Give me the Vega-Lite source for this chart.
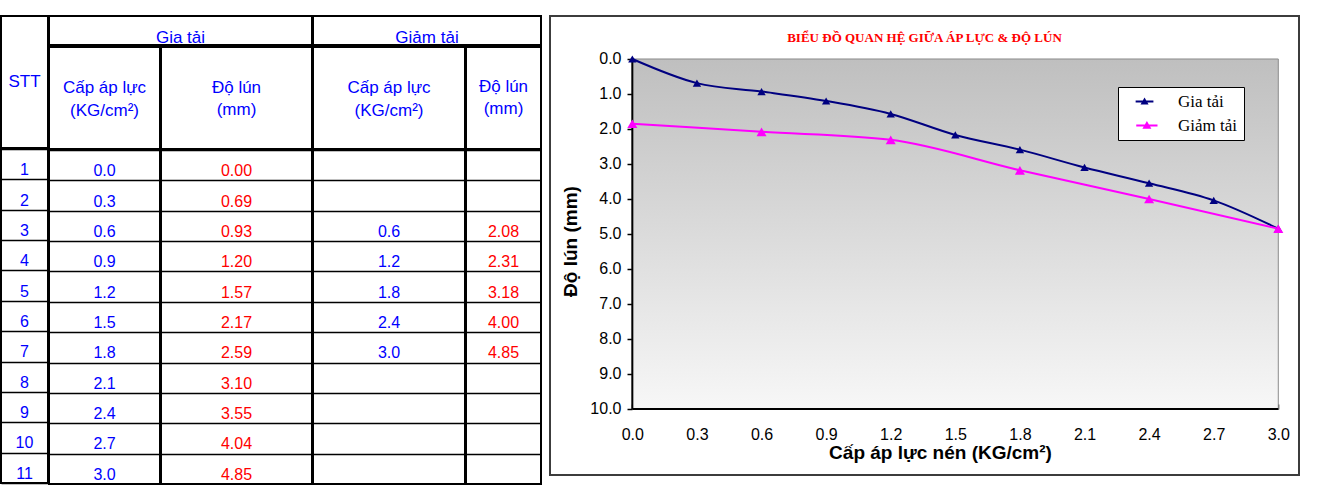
{
  "$schema": "https://vega.github.io/schema/vega-lite/v6.json",
  "background": "white",
  "padding": {"left": 0, "top": 15, "right": 0, "bottom": 0},
  "datasets": {
    "table": [
      {"stt": 1, "p1": 0.0, "s1": 0.00},
      {"stt": 2, "p1": 0.3, "s1": 0.69},
      {"stt": 3, "p1": 0.6, "s1": 0.93, "p2": 0.6, "s2": 2.08},
      {"stt": 4, "p1": 0.9, "s1": 1.20, "p2": 1.2, "s2": 2.31},
      {"stt": 5, "p1": 1.2, "s1": 1.57, "p2": 1.8, "s2": 3.18},
      {"stt": 6, "p1": 1.5, "s1": 2.17, "p2": 2.4, "s2": 4.00},
      {"stt": 7, "p1": 1.8, "s1": 2.59, "p2": 3.0, "s2": 4.85},
      {"stt": 8, "p1": 2.1, "s1": 3.10},
      {"stt": 9, "p1": 2.4, "s1": 3.55},
      {"stt": 10, "p1": 2.7, "s1": 4.04},
      {"stt": 11, "p1": 3.0, "s1": 4.85}
    ],
    "curve": [
      {"series": "Gia tải", "p": 0.0, "s": 0.00},
      {"series": "Gia tải", "p": 0.3, "s": 0.69},
      {"series": "Gia tải", "p": 0.6, "s": 0.93},
      {"series": "Gia tải", "p": 0.9, "s": 1.20},
      {"series": "Gia tải", "p": 1.2, "s": 1.57},
      {"series": "Gia tải", "p": 1.5, "s": 2.17},
      {"series": "Gia tải", "p": 1.8, "s": 2.59},
      {"series": "Gia tải", "p": 2.1, "s": 3.10},
      {"series": "Gia tải", "p": 2.4, "s": 3.55},
      {"series": "Gia tải", "p": 2.7, "s": 4.04},
      {"series": "Gia tải", "p": 3.0, "s": 4.85},
      {"series": "Giảm tải", "p": 0.0, "s": 1.85},
      {"series": "Giảm tải", "p": 0.6, "s": 2.08},
      {"series": "Giảm tải", "p": 1.2, "s": 2.31},
      {"series": "Giảm tải", "p": 1.8, "s": 3.18},
      {"series": "Giảm tải", "p": 2.4, "s": 4.00},
      {"series": "Giảm tải", "p": 3.0, "s": 4.85}
    ]
  },
  "spacing": 7,
  "hconcat": [
    {
      "spacing": -4,
      "hconcat": [
        {
          "spacing": -4,
          "vconcat": [
            {
              "width": 47, "height": 132,
              "view": {"stroke": "black", "strokeWidth": 2},
              "data": {"values": [{}]},
              "mark": {"type": "text", "text": "STT", "color": "#0000ff", "fontSize": 17, "dy": 0}
            },
            {
              "width": 47, "height": 334,
              "data": {"name": "table"},
              "mark": {"type": "text", "color": "#0000ff", "dy": 6},
              "encoding": {
                "y": {"field": "stt", "type": "ordinal", "scale": {"type": "band", "domain": [1,2,3,4,5,6,7,8,9,10,11], "paddingInner": 0, "paddingOuter": 0}, "axis": {"title": null, "labels": false, "ticks": false, "domain": false, "grid": true, "gridColor": "black", "gridWidth": 1.5, "tickBand": "extent", "minExtent": 0, "maxExtent": 0}},
                "text": {"field": "stt", "type": "nominal"}
              }
            }
          ]
        },
        {
          "spacing": -4,
          "vconcat": [
            {
              "width": 263, "height": 29,
              "view": {"stroke": "black", "strokeWidth": 2},
              "data": {"values": [{}]},
              "mark": {"type": "text", "text": "Gia tải", "color": "#0000ff", "fontSize": 17, "dy": 7}
            },
            {
              "spacing": -4,
              "hconcat": [
                {
                  "spacing": -4,
                  "vconcat": [
                    {
                      "width": 111, "height": 102,
                      "view": {"stroke": "black", "strokeWidth": 2},
                      "data": {"values": [{}]},
                      "mark": {"type": "text", "text": "Cấp áp lực\n(KG/cm²)", "lineBreak": "\n", "lineHeight": 23, "color": "#0000ff", "fontSize": 17, "dy": -10}
                    },
                    {
                      "width": 111, "height": 334,
                      "data": {"name": "table"},
                      "mark": {"type": "text", "color": "#0000ff", "dy": 6},
                      "encoding": {
                        "y": {"field": "stt", "type": "ordinal", "scale": {"type": "band", "domain": [1,2,3,4,5,6,7,8,9,10,11], "paddingInner": 0, "paddingOuter": 0}, "axis": {"title": null, "labels": false, "ticks": false, "domain": false, "grid": true, "gridColor": "black", "gridWidth": 1.5, "tickBand": "extent", "minExtent": 0, "maxExtent": 0}},
                        "text": {"field": "p1", "type": "quantitative", "format": ".1f"}
                      }
                    }
                  ]
                },
                {
                  "spacing": -4,
                  "vconcat": [
                    {
                      "width": 151, "height": 102,
                      "view": {"stroke": "black", "strokeWidth": 2},
                      "data": {"values": [{}]},
                      "mark": {"type": "text", "text": "Độ lún\n(mm)", "lineBreak": "\n", "lineHeight": 22, "color": "#0000ff", "fontSize": 17, "dy": -10}
                    },
                    {
                      "width": 151, "height": 334,
                      "data": {"name": "table"},
                      "mark": {"type": "text", "color": "#ff0000", "dy": 6},
                      "encoding": {
                        "y": {"field": "stt", "type": "ordinal", "scale": {"type": "band", "domain": [1,2,3,4,5,6,7,8,9,10,11], "paddingInner": 0, "paddingOuter": 0}, "axis": {"title": null, "labels": false, "ticks": false, "domain": false, "grid": true, "gridColor": "black", "gridWidth": 1.5, "tickBand": "extent", "minExtent": 0, "maxExtent": 0}},
                        "text": {"field": "s1", "type": "quantitative", "format": ".2f"}
                      }
                    }
                  ]
                }
              ]
            }
          ]
        },
        {
          "spacing": -4,
          "vconcat": [
            {
              "width": 228, "height": 29,
              "view": {"stroke": "black", "strokeWidth": 2},
              "data": {"values": [{}]},
              "mark": {"type": "text", "text": "Giảm tải", "color": "#0000ff", "fontSize": 17, "dy": 7}
            },
            {
              "spacing": -4,
              "hconcat": [
                {
                  "spacing": -4,
                  "vconcat": [
                    {
                      "width": 152, "height": 102,
                      "view": {"stroke": "black", "strokeWidth": 2},
                      "data": {"values": [{}]},
                      "mark": {"type": "text", "text": "Cấp áp lực\n(KG/cm²)", "lineBreak": "\n", "lineHeight": 23, "color": "#0000ff", "fontSize": 17, "dy": -10}
                    },
                    {
                      "width": 152, "height": 334,
                      "data": {"name": "table"},
                      "transform": [{"filter": "isValid(datum.p2)"}],
                      "mark": {"type": "text", "color": "#0000ff", "dy": 6},
                      "encoding": {
                        "y": {"field": "stt", "type": "ordinal", "scale": {"type": "band", "domain": [1,2,3,4,5,6,7,8,9,10,11], "paddingInner": 0, "paddingOuter": 0}, "axis": {"title": null, "labels": false, "ticks": false, "domain": false, "grid": true, "gridColor": "black", "gridWidth": 1.5, "tickBand": "extent", "minExtent": 0, "maxExtent": 0}},
                        "text": {"field": "p2", "type": "quantitative", "format": ".1f"}
                      }
                    }
                  ]
                },
                {
                  "spacing": -4,
                  "vconcat": [
                    {
                      "width": 75, "height": 102,
                      "view": {"stroke": "black", "strokeWidth": 2},
                      "data": {"values": [{}]},
                      "mark": {"type": "text", "text": "Độ lún\n(mm)", "lineBreak": "\n", "lineHeight": 22, "color": "#0000ff", "fontSize": 17, "dy": -11}
                    },
                    {
                      "width": 75, "height": 334,
                      "data": {"name": "table"},
                      "transform": [{"filter": "isValid(datum.s2)"}],
                      "mark": {"type": "text", "color": "#ff0000", "dy": 6},
                      "encoding": {
                        "y": {"field": "stt", "type": "ordinal", "scale": {"type": "band", "domain": [1,2,3,4,5,6,7,8,9,10,11], "paddingInner": 0, "paddingOuter": 0}, "axis": {"title": null, "labels": false, "ticks": false, "domain": false, "grid": true, "gridColor": "black", "gridWidth": 1.5, "tickBand": "extent", "minExtent": 0, "maxExtent": 0}},
                        "text": {"field": "s2", "type": "quantitative", "format": ".2f"}
                      }
                    }
                  ]
                }
              ]
            }
          ]
        }
      ]
    },
    {
      "width": 749,
      "height": 459,
      "view": {"stroke": "#3c3c3c", "strokeWidth": 2, "fill": "white"},
      "title": {"text": "BIỂU ĐỒ QUAN HỆ GIỮA ÁP LỰC & ĐỘ LÚN", "font": "Liberation Serif", "fontSize": 13, "fontWeight": "bold", "color": "#ff0000", "anchor": "middle", "offset": -35, "baseline": "middle"},
      "layer": [
        {
          "data": {"values": [{}]},
          "mark": {"type": "rect", "fill": {"gradient": "linear", "x1": 0, "y1": 0, "x2": 0, "y2": 1, "stops": [{"offset": 0, "color": "#bfbfbf"}, {"offset": 1, "color": "#f7f7f7"}]}, "stroke": "#8a8a8a", "strokeWidth": 1},
          "encoding": {
            "x": {"datum": 0, "type": "quantitative", "scale": {"domain": [-0.3824, 3.0962], "nice": false, "zero": false}},
            "x2": {"datum": 3},
            "y": {"datum": 0, "type": "quantitative", "scale": {"domain": [-1.2286, 11.886], "nice": false, "zero": false, "reverse": true}},
            "y2": {"datum": 10}
          }
        },
        {
          "data": {"values": [{}]},
          "mark": {"type": "rule", "color": "black", "strokeWidth": 2},
          "encoding": {
            "x": {"datum": 0, "type": "quantitative", "scale": {"domain": [-0.3824, 3.0962], "nice": false, "zero": false}},
            "y": {"datum": 0, "type": "quantitative", "scale": {"domain": [-1.2286, 11.886], "nice": false, "zero": false, "reverse": true}},
            "y2": {"datum": 10}
          }
        },
        {
          "data": {"values": [{}]},
          "mark": {"type": "rule", "color": "black", "strokeWidth": 2},
          "encoding": {
            "x": {"datum": 0, "type": "quantitative", "scale": {"domain": [-0.3824, 3.0962], "nice": false, "zero": false}},
            "x2": {"datum": 3},
            "y": {"datum": 10, "type": "quantitative", "scale": {"domain": [-1.2286, 11.886], "nice": false, "zero": false, "reverse": true}}
          }
        },
        {
          "data": {"name": "curve"},
          "mark": {"type": "line", "interpolate": "monotone", "strokeWidth": 2},
          "encoding": {
            "x": {"field": "p", "type": "quantitative", "scale": {"domain": [-0.3824, 3.0962], "nice": false, "zero": false},
              "axis": {"orient": "bottom", "offset": -66, "values": [0, 0.3, 0.6, 0.9, 1.2, 1.5, 1.8, 2.1, 2.4, 2.7, 3.0], "format": ".1f", "domain": false, "grid": false, "tickSize": -5, "tickColor": "black", "tickWidth": 1.5, "labelFont": "Liberation Sans", "labelFontSize": 16, "labelColor": "black", "labelBaseline": "middle", "labelPadding": 30, "labelFlush": false, "labelOverlap": false, "title": "Cấp áp lực nén (KG/cm²)", "titleFont": "Liberation Sans", "titleFontSize": 19, "titleFontWeight": "bold", "titleColor": "black", "titleX": 390, "titleY": 43, "titleBaseline": "middle", "titleAlign": "center"}},
            "y": {"field": "s", "type": "quantitative", "scale": {"domain": [-1.2286, 11.886], "nice": false, "zero": false, "reverse": true},
              "axis": {"orient": "left", "offset": -82, "values": [0, 1, 2, 3, 4, 5, 6, 7, 8, 9, 10], "format": ".1f", "domain": false, "grid": false, "tickSize": 5, "tickColor": "black", "tickWidth": 1.5, "labelFont": "Liberation Sans", "labelFontSize": 16, "labelColor": "black", "labelPadding": 6, "labelFlush": false, "labelOverlap": false, "title": "Độ lún (mm)", "titleFont": "Liberation Sans", "titleFontSize": 19, "titleFontWeight": "bold", "titleColor": "black", "titleX": -62, "titleY": 225, "titleAngle": 270, "titleBaseline": "middle", "titleAlign": "center"}},
            "color": {"field": "series", "type": "nominal", "scale": {"domain": ["Gia tải", "Giảm tải"], "range": ["#000080", "#ff00ff"]},
              "legend": {"title": null, "orient": "none", "legendX": 1117, "legendY": 71, "padding": 6, "fillColor": "white", "strokeColor": "black", "symbolType": "M0.75,0H5M2.33,0.45L2.88,-0.5L3.43,0.45Z", "symbolSize": 256, "symbolStrokeWidth": 2, "labelOffset": 37, "labelFont": "Liberation Serif", "labelFontSize": 17, "labelColor": "black", "rowPadding": 6,
                "encode": {"symbols": {"update": {"fill": {"scale": "color", "field": "value"}, "stroke": {"scale": "color", "field": "value"}, "opacity": {"value": 1}, "size": {"value": 256}}}}}}
          }
        },
        {
          "data": {"name": "curve"},
          "mark": {"type": "point", "shape": "triangle-up", "filled": true, "opacity": 1},
          "encoding": {
            "x": {"field": "p", "type": "quantitative", "scale": {"domain": [-0.3824, 3.0962], "nice": false, "zero": false}},
            "y": {"field": "s", "type": "quantitative", "scale": {"domain": [-1.2286, 11.886], "nice": false, "zero": false, "reverse": true}},
            "color": {"field": "series", "type": "nominal", "scale": {"domain": ["Gia tải", "Giảm tải"], "range": ["#000080", "#ff00ff"]}, "legend": null},
            "size": {"field": "series", "type": "nominal", "scale": {"domain": ["Gia tải", "Giảm tải"], "range": [70, 100]}, "legend": null}
          }
        }
      ]
    }
  ],
  "config": {
    "view": {"stroke": "black", "strokeWidth": 2},
    "text": {"font": "Liberation Sans", "fontSize": 16}
  }
}
